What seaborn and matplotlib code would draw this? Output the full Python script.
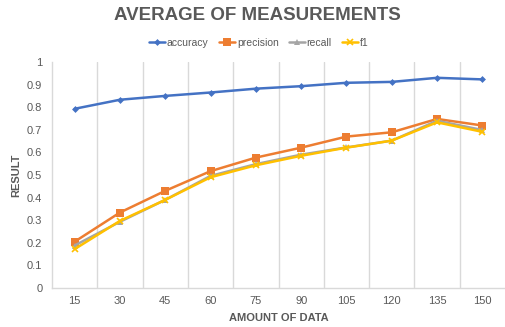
import numpy as np
import pandas as pd
import matplotlib
matplotlib.use("Agg")
import matplotlib.pyplot as plt
from matplotlib.ticker import FixedLocator
import seaborn as sns

sns.set_style("white")
plt.rcParams['font.family'] = ['Liberation Sans', 'DejaVu Sans']

# data
amount = [15, 30, 45, 60, 75, 90, 105, 120, 135, 150]
accuracy = [0.793, 0.833, 0.850, 0.865, 0.882, 0.893, 0.908, 0.912, 0.930, 0.923]
precision = [0.205, 0.334, 0.430, 0.517, 0.577, 0.621, 0.670, 0.689, 0.748, 0.719]
recall = [0.188, 0.293, 0.390, 0.496, 0.548, 0.590, 0.622, 0.652, 0.740, 0.699]
f1 = [0.172, 0.297, 0.390, 0.490, 0.543, 0.585, 0.621, 0.652, 0.733, 0.691]

series = {"accuracy": accuracy, "precision": precision, "recall": recall, "f1": f1}
df = pd.DataFrame([
    {"amount": a, "metric": name, "value": v}
    for name, vals in series.items() for a, v in zip(amount, vals)
])

colors = {"accuracy": "#4472C4", "precision": "#ED7D31", "recall": "#A5A5A5", "f1": "#FFC000"}
markers = {"accuracy": "D", "precision": "s", "recall": "^", "f1": "x"}
msizes = {"accuracy": 3.5, "precision": 6, "recall": 5, "f1": 5}
txt = "#595959"

fig = plt.figure(figsize=(5.05, 3.27), dpi=100)
ax = fig.add_axes([52 / 505, 1 - 288 / 327, 453 / 505, 226 / 327])

for name in series:
    sub = df[df.metric == name]
    sns.lineplot(data=sub, x="amount", y="value", ax=ax, color=colors[name],
                 marker=markers[name], markersize=msizes[name], linewidth=1.8,
                 markeredgewidth=1.2 if name == "f1" else 0,
                 markeredgecolor=colors[name], label=name)

ax.set_xlim(7.5, 157.5)
ax.set_ylim(0, 1)
ax.set_xticks(amount)
ax.set_xticklabels([str(a) for a in amount], color=txt, fontsize=8)
ax.xaxis.set_minor_locator(FixedLocator([a + 7.5 for a in amount[:-1]]))
ax.grid(which="minor", axis="x", color="#D9D9D9", linewidth=1)
ax.grid(which="major", visible=False)
ax.set_yticks(np.arange(0, 1.01, 0.1))
ax.set_yticklabels(["0"] + [f"{v:.1f}" for v in np.arange(0.1, 1.0, 0.1)] + ["1"],
                   color=txt, fontsize=8)
ax.tick_params(axis="y", length=0, pad=7)
ax.tick_params(axis="x", length=0, pad=6)
for s in ["top", "right"]:
    ax.spines[s].set_visible(False)
for s in ["left", "bottom"]:
    ax.spines[s].set_color("#D9D9D9")
    ax.spines[s].set_linewidth(1)

ax.set_xlabel("AMOUNT OF DATA", color=txt, fontsize=8, fontweight="bold", labelpad=5)
ax.set_ylabel("RESULT", color=txt, fontsize=8, fontweight="bold", labelpad=4)

fig.text(0.51, 1 - 15 / 327, "AVERAGE OF MEASUREMENTS", ha="center", va="center",
         fontsize=13.5, fontweight="bold", color=txt)

ax.legend(loc="center", bbox_to_anchor=(259 / 505, 1 - 43 / 327), bbox_transform=fig.transFigure,
          ncol=4, frameon=False, fontsize=7.5, handlelength=1.5, columnspacing=1.0,
          handletextpad=0.2, labelcolor=txt)

fig.savefig("out.png", dpi=100, facecolor="white")
